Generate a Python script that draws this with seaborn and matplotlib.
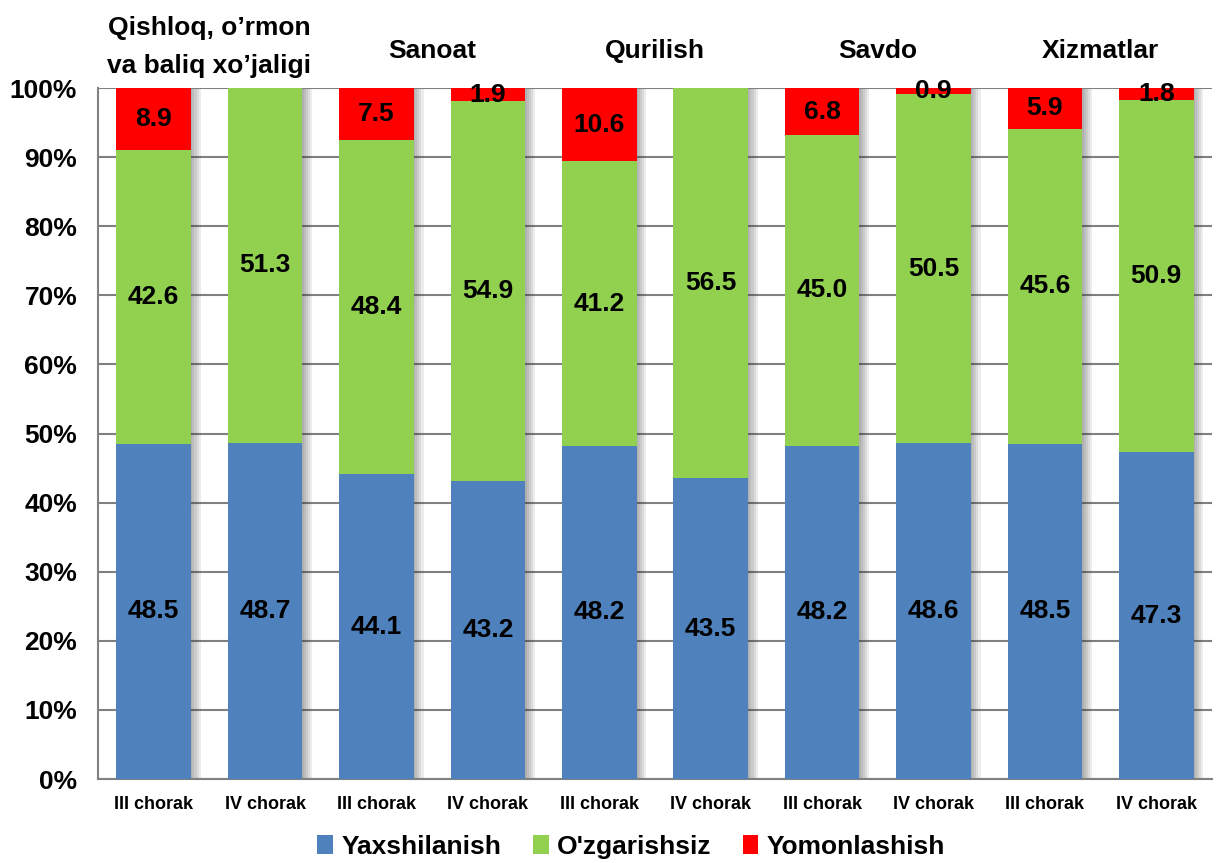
import matplotlib.pyplot as plt
import matplotlib.patheffects as pe
from matplotlib.patches import Patch
import seaborn as sns
import pandas as pd

# Ma'lumotlar
choraklar = ['III chorak', 'IV chorak'] * 5
tarmoqlar = ['Qishloq, o’rmon\nva baliq xo’jaligi', 'Sanoat', 'Qurilish', 'Savdo', 'Xizmatlar']
yaxshilanish = [48.5, 48.7, 44.1, 43.2, 48.2, 43.5, 48.2, 48.6, 48.5, 47.3]
ozgarishsiz = [42.6, 51.3, 48.4, 54.9, 41.2, 56.5, 45.0, 50.5, 45.6, 50.9]
yomonlashish = [8.9, 0.0, 7.5, 1.9, 10.6, 0.0, 6.8, 0.9, 5.9, 1.8]

ranglar = {'Yaxshilanish': '#4F81BD', "O'zgarishsiz": '#92D050', 'Yomonlashish': '#FF0000'}

df = pd.DataFrame({
    'id': [str(i) for i in range(len(choraklar))],
    'y': yaxshilanish,
    'o': ozgarishsiz,
    'r': yomonlashish,
})
df['yo'] = df['y'] + df['o']
df['jami'] = df['yo'] + df['r']

sns.set_style('white')
plt.rcParams['font.family'] = ['Liberation Sans', 'DejaVu Sans']
plt.rcParams['font.weight'] = 'bold'
plt.rcParams['text.color'] = 'black'
plt.rcParams['xtick.labelcolor'] = 'black'
plt.rcParams['ytick.labelcolor'] = 'black'

fig = plt.figure(figsize=(12.23, 8.63), dpi=100)
ax = fig.add_axes([0.0801, 0.0973, 0.9109, 0.8007])

# yumshoq soya (o'ng tomonda)
soya = [pe.SimplePatchShadow(offset=(d, -1), alpha=0.09, shadow_rgbFace='#333333')
        for d in (7, 5.5, 4, 2.5, 1)] + [pe.Normal()]

# ustma-ust ustunlar (kumulyativ)
for ustun, nom, z in [('jami', 'Yomonlashish', 2), ('yo', "O'zgarishsiz", 3), ('y', 'Yaxshilanish', 4)]:
    sns.barplot(data=df, x='id', y=ustun, color=ranglar[nom], width=0.67,
                saturation=1, ax=ax, zorder=z, linewidth=0, edgecolor='none')

for i, p in enumerate(ax.patches):
    if i < len(df):
        p.set_path_effects(soya)

# yorliqlar
for i, row in df.iterrows():
    ax.text(i, row['y'] / 2, f"{row['y']:.1f}", ha='center', va='center', fontsize=19,
            fontweight='bold', zorder=6)
    ax.text(i, row['y'] + row['o'] / 2, f"{row['o']:.1f}", ha='center', va='center',
            fontsize=19, fontweight='bold', zorder=6)
    if row['r'] > 0:
        ax.text(i, row['yo'] + row['r'] / 2, f"{row['r']:.1f}", ha='center', va='center',
                fontsize=19, fontweight='bold', zorder=6)

ax.set_xlim(-0.5, 9.5)
ax.set_ylim(0, 100)
ax.set_yticks(range(0, 101, 10))
ax.set_yticklabels([f'{v}%' for v in range(0, 101, 10)], fontsize=19, fontweight='bold')
ax.set_xticks(range(10))
ax.set_xticklabels(choraklar, fontsize=13, fontweight='bold')
ax.set_xticks([k - 0.5 for k in range(11)], minor=True)
ax.tick_params(axis='x', which='major', length=0, pad=12)
ax.tick_params(axis='x', which='minor', length=7, color='#808080', width=1.2)
ax.tick_params(axis='y', length=5, color='#808080', width=1.2, pad=10)
ax.set_xlabel('')
ax.set_ylabel('')

ax.yaxis.grid(True, color='#808080', linewidth=1.5, zorder=0)
ax.set_axisbelow(True)
for s in ['top', 'right']:
    ax.spines[s].set_visible(False)
for s in ['left', 'bottom']:
    ax.spines[s].set_color('#808080')
    ax.spines[s].set_linewidth(1.5)

# tarmoq nomlari
for k, nom in enumerate(tarmoqlar):
    ax.text(2 * k + 0.5, 101.5 if k == 0 else 103.6, nom, ha='center', va='bottom',
            fontsize=19, fontweight='bold', linespacing=1.7)

# legenda
belgilar = [Patch(facecolor=ranglar[n], edgecolor='none') for n in ranglar]
fig.legend(belgilar, list(ranglar), loc='center',
           bbox_to_anchor=(0.516, 0.019), ncol=3, frameon=False,
           prop={'size': 19, 'weight': 'bold'}, handlelength=0.6, handleheight=0.7,
           handletextpad=0.3, columnspacing=1.2)

fig.savefig('out.png', dpi=100)
